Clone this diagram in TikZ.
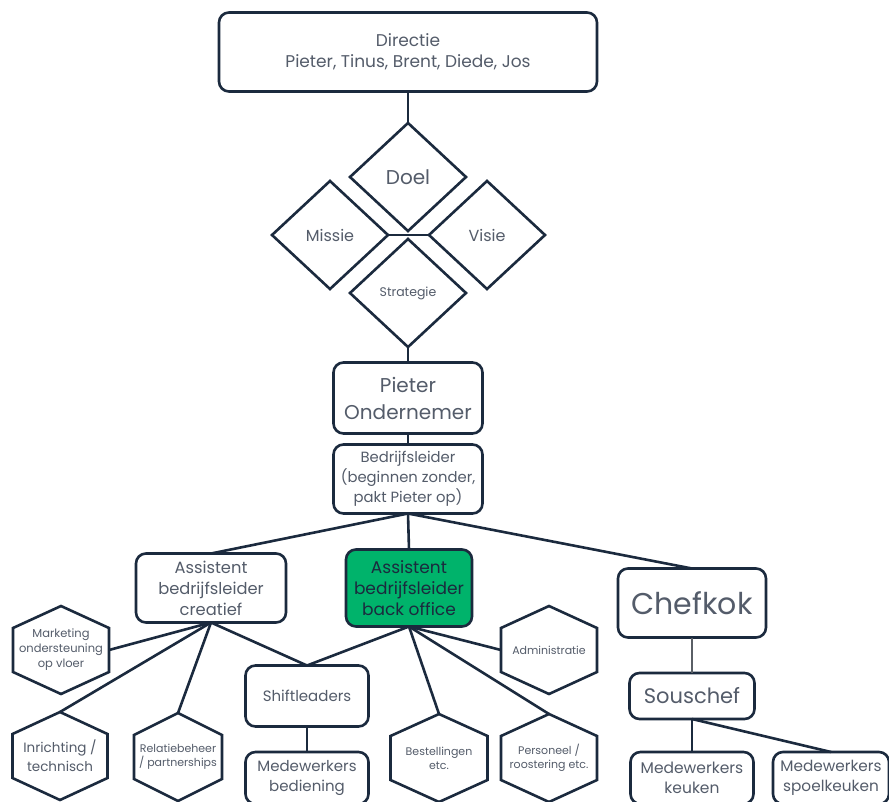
\documentclass[tikz,border=0pt]{standalone}
\usepackage{fontspec}
\setmainfont{Poppins}
\usetikzlibrary{shapes.geometric,calc}
\definecolor{linec}{HTML}{1B2A3E}
\definecolor{textc}{HTML}{545C6A}
\definecolor{boxgreen}{HTML}{00B36B}
\definecolor{thinc}{HTML}{5A5F66}
\newcommand\hexdraw[1]{%
  \draw[hexline] (#1.north) -- ($(#1.north east)!0.25!(#1.south east)$) -- ($(#1.north east)!0.75!(#1.south east)$) -- (#1.south) -- ($(#1.north west)!0.75!(#1.south west)$) -- ($(#1.north west)!0.25!(#1.south west)$) -- cycle;}
\begin{document}
\begin{tikzpicture}[x=1pt,y=-1pt,
  fs/.style 2 args={font=\fontsize{#1}{#2}\selectfont},
  box/.style={draw=linec, line width=2.6pt, rounded corners=10pt, align=center, text=textc, inner sep=0pt, outer sep=0pt, fill=white},
  dia/.style={draw=linec, line width=2.6pt, diamond, minimum width=116pt, minimum height=108pt, inner sep=0pt, outer sep=0pt, text=textc, align=center},
  hexn/.style={inner sep=0pt, outer sep=0pt, align=center, text=textc, minimum height=88pt},
  hexline/.style={draw=linec, line width=2.6pt, line join=miter},
  conn/.style={draw=linec, line width=2.6pt},
  thinconn/.style={draw=thinc, line width=1.6pt}
]
\useasboundingbox (0,0) rectangle (889,801);
\clip (0,0) rectangle (889,801);
\fill[white] (0,0) rectangle (889,801);

% top
\node[box, minimum width=378pt, minimum height=79pt, fs={17}{21}] (dir) at (408,52) {Directie\\Pieter, Tinus, Brent, Diede, Jos};

\node[dia, fs={20}{24}] (doel) at (408,177) {Doel};
\node[dia, fs={16}{18}] (missie) at (330,235) {Missie};
\node[dia, fs={16}{18}] (visie) at (487,235) {Visie};
\node[dia, fs={12.5}{14}] (strat) at (408,293) {Strategie};

\node[box, minimum width=149pt, minimum height=71pt, fs={20}{27}] (pieter) at (408,398) {Pieter\\Ondernemer};
\node[box, minimum width=149pt, minimum height=69pt, fs={14.8}{20}] (bl) at (408,479) {Bedrijfsleider\\(beginnen zonder,\\pakt Pieter op)};

\node[box, minimum width=150pt, minimum height=69pt, fs={16.3}{21}] (cre) at (211,588) {Assistent\\bedrijfsleider\\creatief};
\node[box, minimum width=126pt, minimum height=77pt, fs={17}{21}, fill=boxgreen, text=linec] (bo) at (409,588) {Assistent\\bedrijfsleider\\back office};
\node[box, minimum width=148pt, minimum height=69pt, fs={30}{34}] (chef) at (692,603) {Chefkok};

\node[box, minimum width=125pt, minimum height=46pt, fs={21}{24}] (sous) at (692,696) {Souschef};
\node[box, minimum width=123pt, minimum height=61pt, fs={15}{20}] (shift) at (307,696) {Shiftleaders};
\node[box, minimum width=123pt, minimum height=52pt, fs={15}{20}] (bed) at (307,778) {Medewerkers\\bediening};
\node[box, minimum width=123pt, minimum height=52pt, fs={15.5}{20}] (keu) at (692,778) {Medewerkers\\keuken};
\node[box, minimum width=116pt, minimum height=52pt, fs={15.3}{20}] (spo) at (831,778) {Medewerkers\\spoelkeuken};

% hexagons
\node[hexn, minimum width=96pt, fs={11.5}{15}] (mk) at (61,650) {Marketing\\ondersteuning\\op vloer};
\node[hexn, minimum width=95pt, fs={13.5}{19}] (inr) at (60,756) {Inrichting /\\technisch};
\node[hexn, minimum width=88pt, fs={11}{14}] (rel) at (178,757) {Relatiebeheer\\/ partnerships};
\node[hexn, minimum width=96pt, fs={11}{14}] (adm) at (549,650) {Administratie};
\node[hexn, minimum width=97pt, fs={11}{14}] (best) at (439,758) {Bestellingen\\etc.};
\node[hexn, minimum width=96pt, fs={11}{14}] (pers) at (549,758) {Personeel /\\roostering etc.};
\hexdraw{mk}\hexdraw{inr}\hexdraw{rel}\hexdraw{adm}\hexdraw{best}\hexdraw{pers}

% connectors
\draw[conn] (dir.south) -- (doel.north);
\draw[conn] (missie.east) -- (visie.west);
\draw[conn] (strat.south) -- (pieter.north);
\draw[conn] (pieter.south) -- (bl.north);
\draw[conn] (bl.south) -- (cre.north);
\draw[conn] (bl.south) -- (bo.north);
\draw[conn] (bl.south) -- (chef.north);
\draw[conn] (cre.south) -- (mk.east);
\draw[conn] (cre.south) -- (inr.north);
\draw[conn] (cre.south) -- (rel.north);
\draw[conn] (cre.south) -- (shift.north);
\draw[conn] (bo.south) -- (shift.north);
\draw[conn] (bo.south) -- (best.north);
\draw[conn] (bo.south) -- (adm.west);
\draw[conn] (bo.south) -- (pers.north);
\draw[thinconn] (chef.south) -- (sous.north);
\draw[conn] (sous.south) -- (keu.north);
\draw[conn] (sous.south) -- (spo.north);
\draw[conn] (shift.south) -- (bed.north);
\end{tikzpicture}
\end{document}
